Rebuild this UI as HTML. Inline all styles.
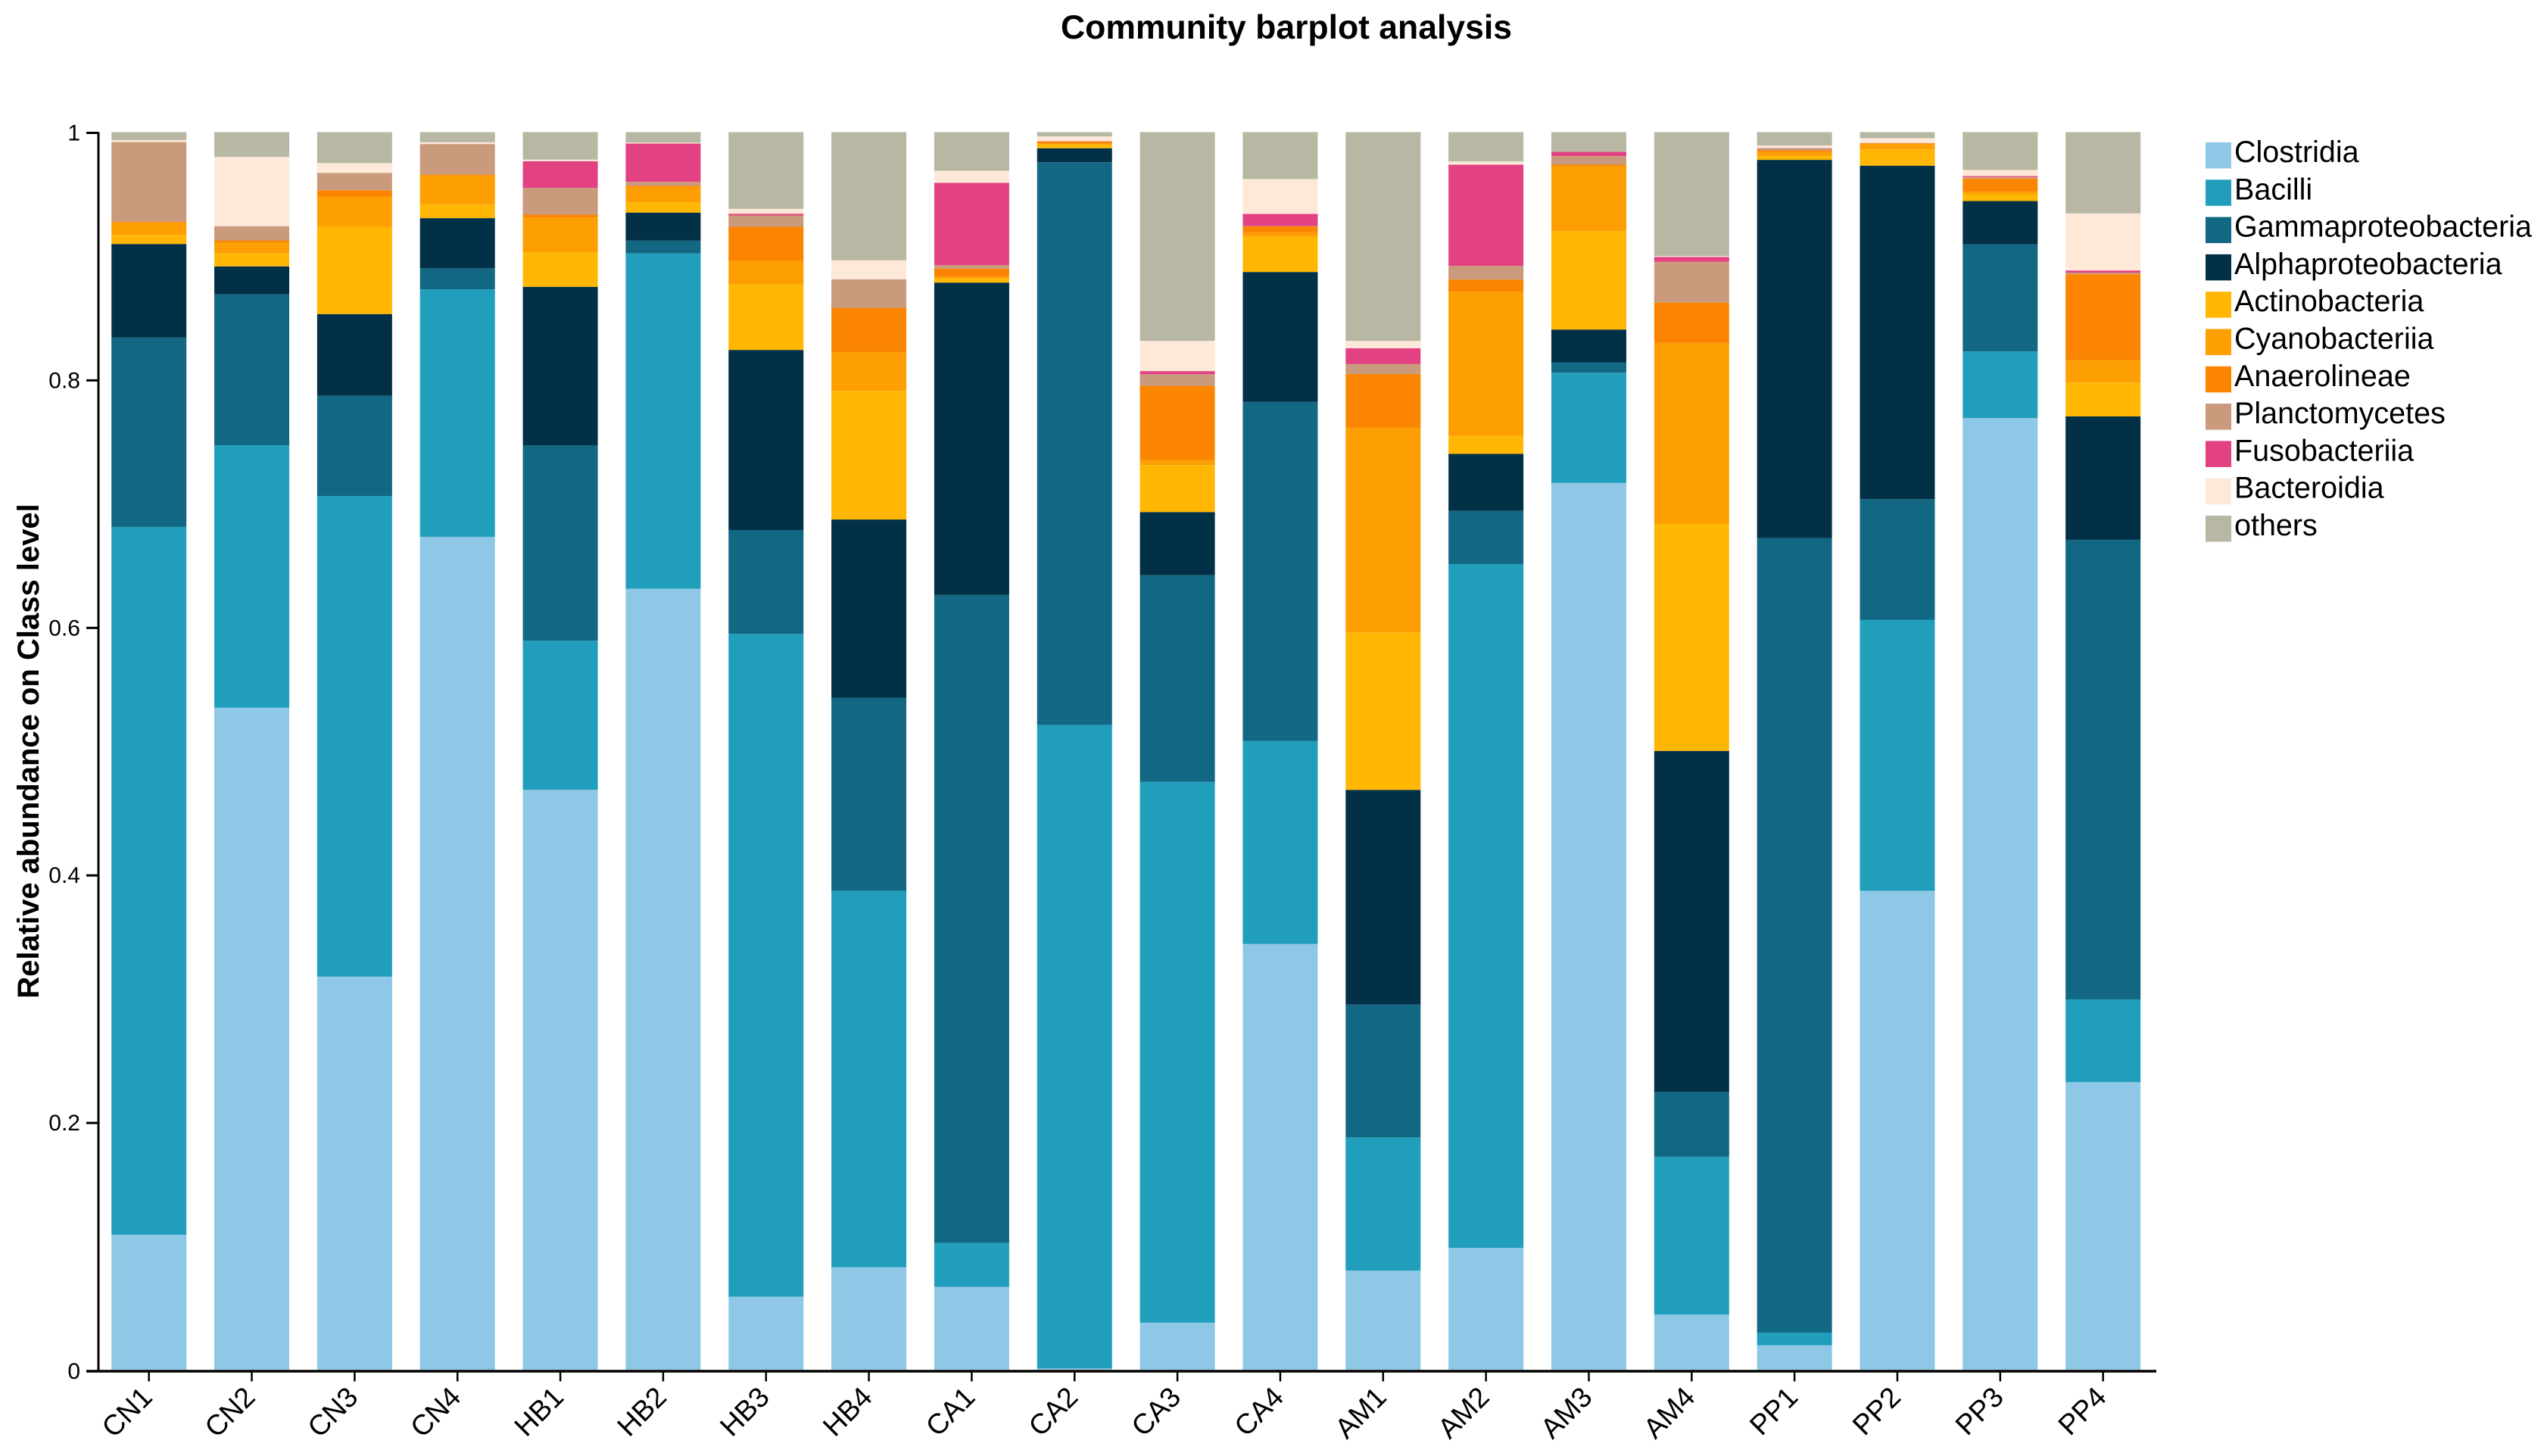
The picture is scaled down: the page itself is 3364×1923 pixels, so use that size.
<!DOCTYPE html>
<html lang="en">
<head>
<meta charset="utf-8">
<title>Community barplot analysis</title>
<style>
html,body{margin:0;padding:0;background:#fff;width:3364px;height:1923px;overflow:hidden}
svg{display:block}
text{font-family:"Liberation Sans",Arial,sans-serif;fill:#000}
</style>
</head>
<body>
<svg id="chart" xmlns="http://www.w3.org/2000/svg" width="3364" height="1923" viewBox="0 0 3364 1923">
  <rect x="0" y="0" width="3364" height="1923" fill="#ffffff"/>
  <text x="1699" y="51" text-anchor="middle" font-size="44.5" font-weight="bold">Community barplot analysis</text>
  <text transform="translate(51,992) rotate(-90)" text-anchor="middle" font-size="40" font-weight="bold">Relative abundance on Class level</text>
  <g id="bars"></g>
  <g id="axes"></g>
  <g id="legend"></g>
</svg>
<script>
const categories = ["CN1","CN2","CN3","CN4","HB1","HB2","HB3","HB4","CA1","CA2","CA3","CA4","AM1","AM2","AM3","AM4","PP1","PP2","PP3","PP4"];
const seriesNames = ["Clostridia","Bacilli","Gammaproteobacteria","Alphaproteobacteria","Actinobacteria","Cyanobacteriia","Anaerolineae","Planctomycetes","Fusobacteriia","Bacteroidia","others"];
const seriesColors = ["#8ec8e6","#219ebc","#126782","#023047","#ffb703","#fd9e02","#fb8500","#c99a7c","#e34282","#fee9d9","#b7b7a3"];
const yTickValues = [0,0.2,0.4,0.6,0.8,1];
const clostridia = [.109,.535,.3176,.673,.4685,.631,.059,.0827,.067,.001,.038,.344,.08,.0984,.7165,.0446,.0197,.387,.769,.2323];
const bacilli = [.572,.212,.3884,.2,.1205,.271,.5355,.3043,.0354,.52,.437,.164,.1077,.5526,.0891,.1274,.0103,.219,.0538,.0669];
const gammaproteobacteria = [.153,.122,.081,.017,.158,.0103,.084,.156,.5236,.4547,.167,.274,.1073,.043,.0084,.0524,.642,.0974,.0866,.3714];
const alphaproteobacteria = [.0756,.0225,.066,.0405,.128,.0227,.1455,.144,.2524,.0113,.051,.105,.1735,.046,.0265,.2756,.3056,.2695,.0349,.0997];
const actinobacteria = [.0074,.0105,.0705,.0112,.028,.0083,.053,.104,.0033,.003,.038,.0284,.1273,.0146,.0795,.1837,.003,.0132,.0055,.0273];
const cyanobacteriia = [.01,.009,.0245,.0233,.028,.0124,.019,.031,.0016,.0006,.004,.0036,.1652,.1165,.0525,.146,.0033,.0044,.0021,.018];
const anaerolineae = [.0005,.0015,.005,.0007,.0023,.0009,.0275,.036,.0064,.0019,.06,.0049,.0436,.0098,.0012,.0326,.0014,.0005,.0106,.0696];
const planctomycetes = [.0645,.0115,.014,.0247,.0217,.0032,.0092,.023,.0028,0,.0094,.0002,.008,.011,.0069,.0329,.0017,.0001,.0012,.0012];
const fusobacteriia = [0,0,0,0,.0215,.031,.0014,0,.0665,.0002,.0025,.0098,.0128,.0818,.0035,.004,.0002,.0001,.0008,.0018];
const bacteroidia = [.0015,.056,.008,.0014,.0013,.0008,.0039,.0154,.0098,.0038,.0244,.0282,.0059,.0026,.0001,.0007,.002,.0039,.0049,.0461];
const others = [.0065,.02,.025,.0082,.0222,.0084,.062,.1036,.0312,.0035,.1687,.0379,.1687,.0237,.0158,.1001,.0108,.0049,.0306,.0657];
const seriesValues = [clostridia,bacilli,gammaproteobacteria,alphaproteobacteria,actinobacteria,cyanobacteriia,anaerolineae,planctomycetes,fusobacteriia,bacteroidia,others];

const NS = "http://www.w3.org/2000/svg";
const barWidth = 99;
function xScale(i){ return 196.7 + i * 135.84; }
function yScale(v){ return 1809 - v * 1634.5; }
function make(tag, parent, attrs){
  const el = document.createElementNS(NS, tag);
  for (const k in attrs) el.setAttribute(k, attrs[k]);
  parent.appendChild(el);
  return el;
}

const barsGroup = document.getElementById("bars");
categories.forEach(function(cat, i){
  let cum = 0;
  seriesValues.forEach(function(values, s){
    const v = values[i];
    if (v > 0) {
      const top = yScale(cum + v);
      const bottom = yScale(cum);
      const r = make("rect", barsGroup, {x: xScale(i) - barWidth / 2, y: top, width: barWidth, height: bottom - top, fill: seriesColors[s]});
      
      
    }
    cum += v;
  });
});

const axesGroup = document.getElementById("axes");
const yLine = make("line", axesGroup, {x1: 130, y1: yScale(1), x2: 130, y2: 1812, stroke: "#000", "stroke-width": 3});


const xLine = make("line", axesGroup, {x1: 114, y1: 1811, x2: 2848, y2: 1811, stroke: "#000", "stroke-width": 3.5});



yTickValues.forEach(function(v){
  const ty = v === 0 ? 1811 : yScale(v) + 1;
  const tick = make("line", axesGroup, {x1: 114, y1: ty, x2: 130, y2: ty, stroke: "#000", "stroke-width": 3});
  
  
  const label = make("text", axesGroup, {x: 106, y: ty + 10, "text-anchor": "end", "font-size": 30});
  
  
  label.textContent = String(v);
});

categories.forEach(function(cat, i){
  const cx = xScale(i);
  const tick = make("line", axesGroup, {x1: cx, y1: 1810, x2: cx, y2: 1824.5, stroke: "#000", "stroke-width": 2.5});
  
  
  const label = make("text", axesGroup, {transform: "translate(" + (cx + 6.5) + ",1847.5) rotate(-45)", "text-anchor": "end", "font-size": 37.5});
  
  
  label.textContent = cat;
});

const legendGroup = document.getElementById("legend");
seriesNames.forEach(function(name, s){
  const swatch = make("rect", legendGroup, {x: 2913, y: 188 + s * 49.3, width: 34, height: 34.5, fill: seriesColors[s]});
  
  
  const label = make("text", legendGroup, {x: 2951, y: 214 + s * 49.3, "font-size": 39.5});
  
  
  label.textContent = name;
});
</script>
</body>
</html>
